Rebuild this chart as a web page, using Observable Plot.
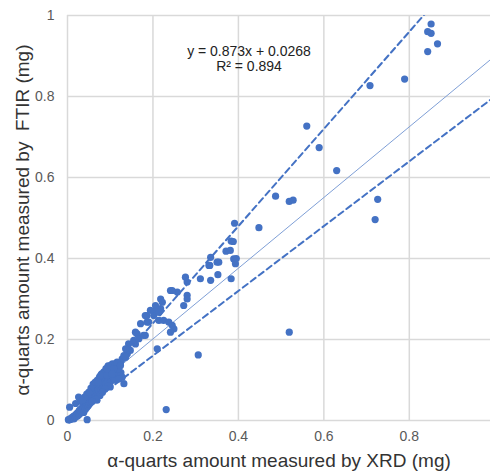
<!DOCTYPE html>
<html>
<head>
<meta charset="utf-8">
<script src="https://cdn.jsdelivr.net/npm/d3@7"></script>
<script src="https://cdn.jsdelivr.net/npm/@observablehq/plot@0.6"></script>
<style>
  html, body { margin: 0; padding: 0; background: #fff; }
  #chart svg { display: block; }
</style>
</head>
<body>
<div id="chart"></div>
<script>
// ---- data ----
const xrd = [
  0.002,0.004,0.006,0.008,0.010,0.012,0.014,0.015,0.017,0.018,0.020,0.021,0.023,0.024,0.026,0.027,0.028,0.030,0.031,0.032,
  0.034,0.035,0.036,0.037,0.038,0.040,0.041,0.042,0.043,0.044,0.045,0.046,0.047,0.048,0.049,0.050,0.051,0.052,0.053,0.054,
  0.055,0.056,0.057,0.058,0.060,0.061,0.062,0.063,0.064,0.065,0.066,0.067,0.068,0.070,0.071,0.072,0.073,0.074,0.075,0.076,
  0.078,0.079,0.080,0.082,0.083,0.084,0.086,0.087,0.088,0.090,0.091,0.092,0.094,0.095,0.096,0.098,0.100,0.101,0.103,0.105,
  0.108,0.110,0.112,0.115,0.118,0.120,0.122,0.125,0.128,0.019,0.030,0.026,0.069,0.100,
  0.060,0.055,0.070,0.075,0.085,0.090,0.045,0.040,0.035,0.065,0.080,0.095,0.105,0.110,0.115,0.100,0.095,0.088,0.110,0.076,
  0.082,0.066,0.058,0.050,0.072,0.078,0.092,0.106,0.118,0.124,
  0.093,0.101,0.112,0.128,0.140,0.147,0.143,0.159,0.163,0.182,0.171,0.190,0.182,0.206,0.210,0.136,0.155,0.167,0.178,0.132,
  0.116,0.108,0.104,0.132,0.120,0.124,0.136,
  0.186,0.202,0.194,0.206,0.218,0.222,0.218,0.214,0.186,0.214,0.225,0.237,0.245,0.249,0.241,0.159,
  0.241,0.257,0.245,0.280,0.280,0.272,0.276,0.280,0.311,0.335,0.331,0.335,0.350,0.352,0.383,0.389,0.393,0.371,0.383,0.388,
  0.391,0.381,0.354,0.333,0.395,
  0.448,0.487,0.519,0.528,0.560,0.589,0.630,0.726,0.720,0.708,0.789,0.851,0.843,0.851,0.866,0.843,
  0.519,0.306,0.231,0.046,0.005
];
const ftir = [
  0.002,0.001,0.004,0.003,0.007,0.005,0.010,0.004,0.012,0.008,0.015,0.010,0.018,0.012,0.020,0.015,0.025,0.018,0.028,0.022,
  0.030,0.025,0.040,0.032,0.020,0.035,0.045,0.028,0.038,0.050,0.032,0.042,0.055,0.036,0.047,0.058,0.040,0.050,0.062,0.044,
  0.055,0.066,0.048,0.060,0.070,0.052,0.064,0.075,0.056,0.068,0.080,0.060,0.072,0.085,0.065,0.077,0.090,0.070,0.082,0.095,
  0.075,0.088,0.100,0.080,0.093,0.105,0.086,0.098,0.110,0.092,0.104,0.118,0.098,0.110,0.125,0.104,0.115,0.130,0.110,0.122,
  0.100,0.120,0.108,0.125,0.112,0.130,0.105,0.118,0.107,0.042,0.049,0.058,0.050,0.083,
  0.090,0.080,0.100,0.108,0.120,0.128,0.065,0.058,0.050,0.095,0.115,0.135,0.140,0.135,0.140,0.095,0.085,0.078,0.100,0.062,
  0.070,0.052,0.047,0.070,0.094,0.112,0.112,0.128,0.126,0.142,
  0.128,0.136,0.140,0.152,0.165,0.173,0.189,0.189,0.214,0.210,0.239,0.243,0.259,0.272,0.177,0.177,0.198,0.202,0.210,0.160,
  0.144,0.128,0.115,0.091,0.103,0.136,0.156,
  0.259,0.259,0.272,0.284,0.300,0.292,0.276,0.267,0.243,0.247,0.247,0.243,0.235,0.226,0.218,0.218,
  0.321,0.317,0.321,0.309,0.300,0.284,0.354,0.342,0.350,0.346,0.383,0.403,0.391,0.360,0.350,0.399,0.387,0.418,0.443,0.442,
  0.487,0.420,0.391,0.383,0.400,
  0.476,0.554,0.541,0.544,0.727,0.674,0.617,0.546,0.496,0.827,0.843,0.979,0.960,0.956,0.930,0.911,
  0.218,0.162,0.027,0.002,0.033
];
const xTicks = [0, 0.2, 0.4, 0.6, 0.8];
const yTicks = [0, 0.2, 0.4, 0.6, 0.8, 1];
const fitSlope = 0.873;
const fitIntercept = 0.0268;
const bandSlopes = [1.2, 0.8];
const equationLabel = "y = 0.873x + 0.0268";
const r2Label = "R\u00b2 = 0.894";
const xTitle = "\u03b1-quarts amount measured by XRD (mg)";
const yTitle = "\u03b1-quarts amount measured by\u00a0 FTIR (mg)";

// ---- build tables ----
const points = xrd.map((x, i) => ({x, y: ftir[i]}));
const xMax = 0.99;
const fitLine = [0, xMax].map(x => ({x, y: fitSlope * x + fitIntercept}));
const bands = bandSlopes.flatMap((s, k) => [0, xMax].map(x => ({k, x, y: s * x})));

const blue = "#4472C4";
const fmt = d => String(d);
const chart = Plot.plot({
  width: 490,
  height: 475,
  marginLeft: 67,
  marginRight: 0,
  marginTop: 15,
  marginBottom: 55,
  style: {fontFamily: "'Liberation Sans', Arial, sans-serif", background: "#fff"},
  x: {domain: [0, xMax]},
  y: {domain: [0, 1]},
  marks: [
    Plot.gridX(xTicks, {stroke: "#d9d9d9", strokeOpacity: 1, strokeWidth: 1.5}),
    Plot.gridY(yTicks, {stroke: "#d9d9d9", strokeOpacity: 1, strokeWidth: 1.5}),
    Plot.line(fitLine, {x: "x", y: "y", stroke: "#7f9fd6", strokeWidth: 1, clip: true}),
    Plot.line(bands, {x: "x", y: "y", z: "k", stroke: blue, strokeWidth: 2, strokeDasharray: "6,4", clip: true}),
    Plot.dot(points, {x: "x", y: "y", r: 3.6, fill: blue, stroke: "none"}),
    Plot.axisX(xTicks, {tickSize: 0, tickPadding: 11, fontSize: 14, color: "#595959", label: null, tickFormat: fmt}),
    Plot.axisY(yTicks, {tickSize: 0, tickPadding: 13, fontSize: 14, color: "#595959", label: null, tickFormat: fmt}),
    Plot.text([equationLabel], {frameAnchor: "top", dx: -30, dy: 31, fontSize: 14, fill: "#222"}),
    Plot.text([r2Label], {frameAnchor: "top", dx: -30, dy: 46, fontSize: 14, fill: "#222"}),
    Plot.text([xTitle], {frameAnchor: "bottom", dy: 46, fontSize: 19, fill: "#333"}),
    Plot.text([yTitle], {frameAnchor: "left", textAnchor: "middle", lineAnchor: "middle", dx: -45, dy: 2, rotate: -90, fontSize: 19, fill: "#333"})
  ]
});
document.getElementById("chart").appendChild(chart);
</script>
</body>
</html>
